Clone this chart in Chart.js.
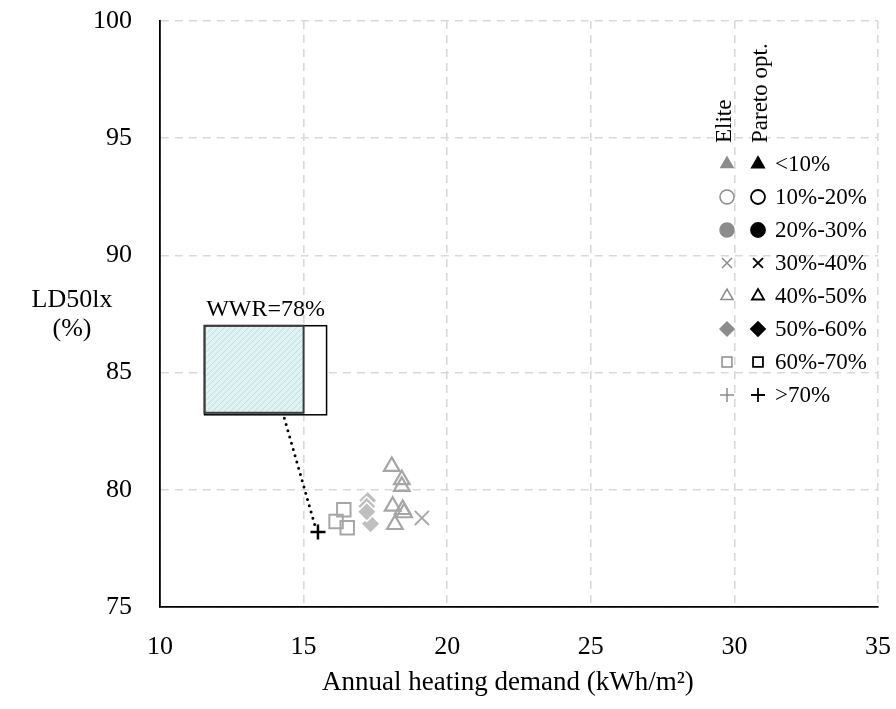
<!DOCTYPE html>
<html>
<head>
<meta charset="utf-8">
<script src="https://cdn.jsdelivr.net/npm/chart.js@4.4.1/dist/chart.umd.min.js"></script>
<style>
  html, body { margin: 0; padding: 0; background: #fff; }
  #contenedor { width: 896px; height: 709px; }
</style>
</head>
<body>
<div id="contenedor"><canvas id="grafico" width="896" height="709"></canvas></div>
<script>
// valores
const xTicks = [10, 15, 20, 25, 30, 35];
const yTicks = [75, 80, 85, 90, 95, 100];
const categorias = ['<10%', '10%-20%', '20%-30%', '30%-40%', '40%-50%', '50%-60%', '60%-70%', '>70%'];

const elite3040X = [19.12];
const elite3040Y = [78.8];
const elite4050X = [18.07, 18.42, 18.42, 18.10, 18.45, 18.50, 18.18];
const elite4050Y = [81.0, 80.43, 80.15, 79.30, 79.16, 79.02, 78.52];
const elite5060X = [17.23, 17.33, 17.20, 17.20];
const elite5060Y = [79.55, 78.55, 79.30, 79.06];
const elite6070X = [16.40, 16.13, 16.52];
const elite6070Y = [79.15, 78.65, 78.38];
const paretoMas70X = [15.5];
const paretoMas70Y = [78.2];

const fuente = "'Liberation Serif', 'Times New Roman', serif";
const estilosLeyenda = ['triangle', 'circle', 'circle', 'crossRot', 'triangle', 'rectRot', 'rect', 'cross'];
const rellenoLeyenda = [true, false, true, false, false, true, false, false];

function puntos(xs, ys) {
    return xs.map((x, i) => ({ x: x, y: ys[i] }));
}

function marcador(ctx, estilo, x, y, radio, color, relleno, ancho) {
    ctx.save();
    ctx.strokeStyle = color;
    ctx.fillStyle = relleno ? color : 'rgba(0,0,0,0)';
    ctx.lineWidth = ancho;
    Chart.helpers.drawPoint(ctx, { pointStyle: estilo, radius: radio, rotation: 0, borderWidth: ancho }, x, y);
    ctx.restore();
}

// rayado de la ventana
function patronVidrio(ctx) {
    const c = document.createElement('canvas');
    c.width = 6; c.height = 6;
    const p = c.getContext('2d');
    p.fillStyle = '#e0f3f3';
    p.fillRect(0, 0, 6, 6);
    p.strokeStyle = '#b9d9d9';
    p.lineWidth = 0.8;
    p.beginPath();
    p.moveTo(0, 6); p.lineTo(6, 0);
    p.moveTo(-1, 1); p.lineTo(1, -1);
    p.moveTo(5, 7); p.lineTo(7, 5);
    p.stroke();
    return ctx.createPattern(c, 'repeat');
}

const anotaciones = {
    id: 'anotaciones',
    beforeDatasetsDraw(chart) {
        const { ctx, scales: { x, y } } = chart;
        const izq = x.getPixelForValue(11.55), der = x.getPixelForValue(15.8), vid = x.getPixelForValue(15.0);
        const arr = y.getPixelForValue(87.0), abj = y.getPixelForValue(83.2);
        ctx.save();
        ctx.fillStyle = '#fff';
        ctx.fillRect(izq, arr, der - izq, abj - arr);
        ctx.fillStyle = patronVidrio(ctx);
        ctx.fillRect(izq, arr, vid - izq, abj - arr);
        ctx.strokeStyle = '#000';
        ctx.lineWidth = 1.5;
        ctx.strokeRect(izq, arr, der - izq, abj - arr);
        ctx.strokeStyle = '#3a3a3a';
        ctx.lineWidth = 2;
        ctx.strokeRect(izq, arr, vid - izq, abj - arr - 2);
        ctx.fillStyle = '#000';
        ctx.font = '24px ' + fuente;
        ctx.textAlign = 'center';
        ctx.textBaseline = 'alphabetic';
        ctx.fillText('WWR=78%', (izq + der) / 2, arr - 10);
        // linea punteada hacia el punto
        ctx.strokeStyle = '#000';
        ctx.lineWidth = 3;
        ctx.lineCap = 'round';
        ctx.setLineDash([0, 6.5]);
        ctx.beginPath();
        ctx.moveTo(x.getPixelForValue(14.33), y.getPixelForValue(83.05));
        ctx.lineTo(x.getPixelForValue(15.40), y.getPixelForValue(78.45));
        ctx.stroke();
        ctx.restore();
    },
    afterDraw(chart) {
        const ctx = chart.ctx;
        const area = chart.chartArea;
        ctx.save();
        ctx.fillStyle = '#000';
        // titulos de ejes
        ctx.font = '27px ' + fuente;
        ctx.textAlign = 'left';
        ctx.textBaseline = 'middle';
        ctx.fillText('Annual heating demand (kWh/m\u00b2)', 322, 683);
        ctx.textAlign = 'center';
        ctx.font = '26px ' + fuente;
        ctx.fillText('LD50lx', area.left - 88, 300);
        ctx.fillText('(%)', area.left - 88, 329);

        // leyenda
        const xElite = 727, xPareto = 758, xTexto = 775;
        ctx.font = '23px ' + fuente;
        ctx.save();
        ctx.translate(xElite - 2, 143);
        ctx.rotate(-Math.PI / 2);
        ctx.textAlign = 'left';
        ctx.fillText('Elite', 0, 0);
        ctx.restore();
        ctx.save();
        ctx.translate(xPareto + 3, 143);
        ctx.rotate(-Math.PI / 2);
        ctx.textAlign = 'left';
        ctx.fillText('Pareto opt.', 0, 0);
        ctx.restore();
        ctx.textAlign = 'left';
        categorias.forEach((cat, i) => {
            const yy = 164 + i * 33;
            marcador(ctx, estilosLeyenda[i], xElite, yy, 7, '#8c8c8c', rellenoLeyenda[i], 1.5);
            marcador(ctx, estilosLeyenda[i], xPareto, yy, 7, '#000', rellenoLeyenda[i], 1.8);
            ctx.fillStyle = '#000';
            ctx.fillText(cat, xTexto, yy + 1);
        });
        ctx.restore();
    }
};

const ejeComun = {
    type: 'linear',
    grid: { color: '#d9d9d9', lineWidth: 1.6, drawTicks: false },
    border: { display: true, color: '#000', width: 1.8, dash: [8, 6] }
};

new Chart(document.getElementById('grafico'), {
    type: 'scatter',
    data: {
        datasets: [
            {
                label: 'Elite 30%-40%', data: puntos(elite3040X, elite3040Y),
                pointStyle: 'crossRot', pointRadius: 10, pointBorderWidth: 1.8,
                pointBorderColor: '#a6a6a6', pointBackgroundColor: '#a6a6a6'
            },
            {
                label: 'Elite 40%-50%', data: puntos(elite4050X, elite4050Y),
                pointStyle: 'triangle', pointRadius: 9, pointBorderWidth: 2.2,
                pointBorderColor: '#a6a6a6', pointBackgroundColor: 'rgba(255,255,255,0)'
            },
            {
                label: 'Elite 50%-60%', data: puntos(elite5060X, elite5060Y),
                pointStyle: 'rectRot', pointRadius: 9.5, pointBorderWidth: 1.5,
                pointBorderColor: '#fff', pointBackgroundColor: '#bfbfbf'
            },
            {
                label: 'Elite 60%-70%', data: puntos(elite6070X, elite6070Y),
                pointStyle: 'rect', pointRadius: 9.5, pointBorderWidth: 2,
                pointBorderColor: '#a6a6a6', pointBackgroundColor: 'rgba(255,255,255,0)'
            },
            {
                label: 'Pareto >70%', data: puntos(paretoMas70X, paretoMas70Y),
                pointStyle: 'cross', pointRadius: 7.5, pointBorderWidth: 2.5,
                pointBorderColor: '#000', pointBackgroundColor: '#000'
            }
        ]
    },
    options: {
        responsive: false,
        animation: false,
        devicePixelRatio: 1,
        layout: { padding: { left: 0, top: 21, right: 18, bottom: 0 } },
        plugins: { legend: { display: false }, tooltip: { enabled: false } },
        scales: {
            x: Object.assign({}, ejeComun, {
                min: 10, max: 35,
                afterFit: (s) => { s.height = 102; s.paddingLeft = 0; s.paddingRight = 0; },
                afterBuildTicks: (s) => { s.ticks = xTicks.map(v => ({ value: v })); },
                ticks: { padding: 25, color: '#000', font: { family: fuente, size: 26 } }
            }),
            y: Object.assign({}, ejeComun, {
                min: 75, max: 100,
                afterFit: (s) => { s.width = 160; s.paddingTop = 0; s.paddingBottom = 0; },
                afterBuildTicks: (s) => { s.ticks = yTicks.map(v => ({ value: v })); },
                ticks: { padding: 28, color: '#000', font: { family: fuente, size: 26 } }
            })
        }
    },
    plugins: [anotaciones]
});
</script>
</body>
</html>
